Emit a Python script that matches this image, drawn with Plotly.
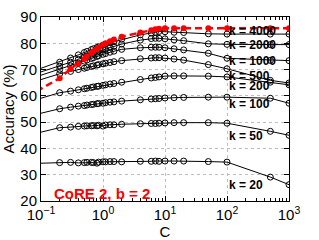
import plotly.graph_objects as go
import math

# ---- data ----
C = [0.01, 0.2, 0.3, 0.4, 0.5, 0.55, 0.65, 0.7, 0.8, 0.85, 1, 1.1, 1.3, 1.5, 2,
     4, 6, 7, 8, 10, 14, 20, 50, 100, 500, 1000]

k20 = [33.7, 34.6, 34.7, 34.5, 34.6, 34.7, 34.7, 34.6, 34.4, 34.8, 34.9, 34.9, 35.0, 35.0, 34.9,
       35.1, 35.1, 35.2, 35.1, 35.2, 35.2, 35.2, 35.0, 34.8, 29.1, 26.2]
k50 = [40.5, 47.9, 48.1, 48.4, 48.5, 48.6, 48.6, 48.7, 48.6, 48.8, 48.5, 48.9, 49.0, 49.0, 49.2,
       49.4, 49.5, 49.5, 49.6, 49.7, 49.8, 49.8, 49.8, 49.6, 46.5, 45.0]
k100 = [47.7, 55.1, 55.7, 56.1, 56.3, 56.5, 56.7, 56.8, 57.0, 57.1, 57.2, 57.4, 57.6, 57.7, 58.0,
        58.5, 58.8, 58.9, 59.0, 59.2, 59.3, 59.4, 59.5, 59.5, 59.1, 57.2]
k200 = [52.1, 61.2, 61.8, 62.3, 62.7, 62.9, 63.2, 63.4, 63.6, 63.7, 64.0, 64.2, 64.5, 64.7, 65.2,
        66.2, 66.8, 67.0, 67.2, 67.5, 67.6, 67.6, 67.5, 67.2, 65.2, 64.2]
k500 = [58.9, 68.4, 69.3, 70.0, 70.5, 70.8, 71.2, 71.4, 71.7, 71.9, 72.2, 72.4, 72.7, 73.0, 73.4,
        74.1, 74.4, 74.5, 74.5, 74.4, 74.0, 73.6, 71.9, 70.3, 65.9, 64.9]
k1000 = [60.1, 70.0, 71.4, 72.4, 73.2, 73.6, 74.2, 74.5, 75.0, 75.3, 75.8, 76.1, 76.6, 77.0, 77.7,
         78.3, 78.5, 78.5, 78.5, 78.3, 77.9, 77.5, 76.2, 74.3, 73.5, 73.4]
k2000 = [61.4, 71.3, 72.8, 73.9, 74.8, 75.2, 75.8, 76.1, 76.6, 76.9, 77.5, 77.8, 78.4, 78.8, 79.7,
         81.2, 81.8, 81.9, 81.9, 81.7, 81.3, 81.0, 79.8, 79.6, 79.5, 79.5]
k4000 = [62.0, 72.8, 74.4, 75.6, 76.5, 76.9, 77.6, 77.9, 78.4, 78.7, 79.3, 79.6, 80.2, 80.6, 81.5,
         83.2, 83.9, 84.2, 84.5, 84.4, 84.2, 84.1, 83.6, 83.5, 83.5, 83.5]
original = [49.4, 66.7, 70.3, 72.2, 74.0, 75.0, 76.3, 77.0, 77.8, 78.3, 79.4, 80.0, 80.8, 81.4, 82.5,
            84.1, 85.0, 85.3, 85.5, 85.7, 85.7, 85.7, 85.7, 85.7, 85.7, 85.7]

series = [k20, k50, k100, k200, k500, k1000, k2000, k4000]
labels = ["k = 4000", "k = 2000", "k = 1000", "k = 500", "k = 200", "k = 100", "k = 50", "k = 20"]
label_y = [84.6, 79.5, 73.2, 67.4, 63.9, 57.0, 44.6, 26.0]
label_C = 100
title_text = "CoRE 2, b = 2"

x_tickvals = [0.1, 1, 10, 100, 1000]
x_ticktext = ["10<sup>\u22121</sup>", "10<sup>0</sup>", "10<sup>1</sup>", "10<sup>2</sup>", "10<sup>3</sup>"]
x_minor = [m * d for d in [0.1, 1, 10, 100] for m in range(2, 10)]

FONT = "Liberation Sans, Arial, sans-serif"

fig = go.Figure()
for s in series:
    fig.add_trace(go.Scatter(
        x=C, y=s, mode="lines+markers",
        line=dict(color="black", width=1),
        marker=dict(symbol="circle-open", size=6, color="black", line=dict(width=1)),
        showlegend=False, hoverinfo="skip"))

fig.add_trace(go.Scatter(
    x=C, y=original, mode="lines+markers",
    line=dict(color="red", width=2.5, dash="7px,4px"),
    marker=dict(symbol="circle", size=6, color="red"),
    showlegend=False, hoverinfo="skip"))

annotations = []
for t, yv in zip(labels, label_y):
    annotations.append(dict(
        x=math.log10(label_C), y=yv, xref="x", yref="y", text="<b>" + t + "</b>",
        showarrow=False, xanchor="left", yanchor="middle",
        font=dict(family=FONT, size=12, color="black")))
annotations.append(dict(
    x=math.log10(0.15), y=23.0, xref="x", yref="y", text="<b>" + title_text + "</b>",
    showarrow=False, xanchor="left", yanchor="middle",
    font=dict(family=FONT, size=15, color="red")))

axis_common = dict(
    showline=True, linecolor="black", linewidth=1, mirror="ticks",
    ticks="inside", ticklen=5, tickcolor="black",
    showgrid=True, gridcolor="#bdbdbd", griddash="dot", gridwidth=1,
    zeroline=False,
    tickfont=dict(family=FONT, size=15, color="black"),
)

fig.update_layout(
    width=319, height=240, autosize=False,
    margin=dict(l=41, r=30, t=17, b=39, pad=0),
    paper_bgcolor="white", plot_bgcolor="white",
    font=dict(family=FONT, size=15, color="black"),
    annotations=annotations,
    xaxis=dict(type="log", range=[-1, 3], tickmode="array",
               tickvals=x_tickvals, ticktext=x_ticktext,
               title=dict(text="C", font=dict(family=FONT, size=15), standoff=0),
               minor=dict(tickmode="array", tickvals=x_minor, ticks="inside", ticklen=3,
                          tickcolor="black", showgrid=False),
               automargin=False, **axis_common),
    yaxis=dict(range=[20, 90], dtick=10,
               title=dict(text="Accuracy (%)", font=dict(family=FONT, size=15), standoff=4),
               automargin=False, **axis_common),
)

fig.write_html("out.html", config={"displayModeBar": False},
               post_script="document.body.style.margin='0';")
